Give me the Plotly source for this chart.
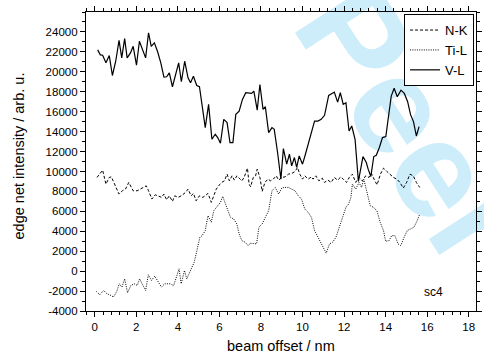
import plotly.graph_objects as go

# ---- data ----
vl_x = [0.14, 0.27, 0.38, 0.54, 0.70, 0.85, 1.01, 1.17, 1.30, 1.44, 1.56, 1.72, 1.85, 2.01, 2.15,
        2.31, 2.45, 2.59, 2.72, 2.87, 3.02, 3.18, 3.33, 3.46, 3.59, 3.74, 3.90, 4.04, 4.17, 4.33,
        4.49, 4.61, 4.75, 4.91, 5.04, 5.18, 5.32, 5.48, 5.64, 5.80, 5.92, 6.05, 6.21, 6.37, 6.51,
        6.65, 6.79, 6.95, 7.11, 7.27, 7.43, 7.55, 7.66, 7.82, 7.95, 8.10, 8.21, 8.37, 8.53, 8.64,
        8.80, 8.96, 9.08, 9.24, 9.37, 9.48, 9.61, 9.72, 9.84, 10.00, 10.11, 10.27, 10.43, 10.58,
        10.74, 10.90, 11.06, 11.17, 11.26, 11.42, 11.53, 11.69, 11.82, 11.96, 12.09, 12.24, 12.37,
        12.53, 12.69, 12.91, 13.07, 13.16, 13.29, 13.43, 13.55, 13.70, 13.85, 14.01, 14.14, 14.27,
        14.41, 14.56, 14.74, 14.90, 15.06, 15.20, 15.34, 15.48, 15.61]
vl_y = [22200, 21700, 21660, 20900, 21630, 19630, 21060, 23160, 21400, 23330, 21400, 21900, 22560,
        20660, 23060, 22230, 21400, 23900, 22560, 22900, 22060, 20900, 19460, 19500, 19900, 18500,
        19900, 20900, 19000, 21060, 19400, 18900, 19560, 18630, 18500, 16600, 14400, 16730, 13230,
        13730, 13400, 12830, 15230, 14900, 12900, 12900, 15730, 16060, 17230, 17900, 17830, 17830,
        18060, 16160, 18730, 16230, 16500, 13900, 14400, 14230, 11900, 9230, 12300, 10730, 11730,
        10560, 11400, 10400, 11560, 10730, 11500, 12730, 13730, 15060, 15060, 15230, 15630, 16900,
        17630, 17830, 17960, 16960, 17900, 16730, 16900, 14060, 14560, 13230, 9000, 11500, 10900,
        10230, 9500, 11500, 11630, 12400, 13400, 13500, 15400, 17560, 18350, 17500, 18160, 17830,
        17000, 15700, 15000, 13560, 14500]

nk_x = [0.11, 0.25, 0.38, 0.54, 0.70, 0.80, 1.01, 1.17, 1.33, 1.48, 1.64, 1.85, 2.04, 2.19, 2.32,
        2.48, 2.59, 2.75, 2.91, 3.07, 3.22, 3.33, 3.46, 3.59, 3.74, 3.85, 4.01, 4.17, 4.37, 4.49,
        4.64, 4.75, 4.88, 5.04, 5.20, 5.32, 5.45, 5.61, 5.74, 5.85, 6.00, 6.11, 6.24, 6.37, 6.48,
        6.61, 6.72, 6.84, 6.95, 7.08, 7.19, 7.35, 7.43, 7.50, 7.63, 7.74, 7.82, 7.95, 8.06, 8.19,
        8.34, 8.46, 8.59, 8.74, 8.85, 9.00, 9.16, 9.32, 9.48, 9.64, 9.76, 9.87, 10.00, 10.11,
        10.27, 10.43, 10.51, 10.64, 10.79, 10.95, 11.06, 11.22, 11.38, 11.53, 11.69, 11.85, 11.96,
        12.12, 12.25, 12.40, 12.56, 12.72, 12.88, 13.04, 13.20, 13.32, 13.48, 13.59, 13.75, 13.90,
        14.06, 14.22, 14.38, 14.54, 14.69, 14.85, 15.01, 15.17, 15.33, 15.48, 15.64]
nk_y = [9400, 9800, 10130, 8730, 9400, 9460, 8400, 7730, 8060, 8230, 8900, 8060, 8060, 8230, 8400,
        8560, 8060, 7230, 7660, 7560, 7400, 7730, 7160, 7560, 7000, 7560, 7400, 7560, 7900, 8230,
        7560, 7800, 7060, 7560, 7400, 7560, 7800, 6900, 7560, 8230, 8660, 8900, 9060, 9730, 9060,
        9560, 9130, 9560, 9330, 9060, 9400, 10330, 8730, 8460, 9400, 9560, 10230, 9400, 8000, 8900,
        9230, 9060, 9230, 9560, 9130, 9400, 9460, 9730, 9800, 10000, 10400, 9730, 9230, 9560,
        9230, 9460, 9230, 9560, 9060, 9330, 8900, 9130, 8900, 9400, 9130, 9460, 9230,
        8900, 9400, 9730, 8900, 9400, 9060, 9560, 9400, 9800, 9060, 8660, 9730, 10330,
        10000, 9730, 9400, 9230, 8900, 8330, 8900, 9730, 9560, 8900, 8400]

til_x = [0.08, 0.24, 0.43, 0.59, 0.79, 0.90, 1.06, 1.18, 1.31, 1.44, 1.58, 1.74, 1.90, 2.05, 2.16,
         2.29, 2.45, 2.58, 2.73, 2.89, 3.05, 3.21, 3.37, 3.52, 3.68, 3.79, 3.95, 4.06, 4.16, 4.32,
         4.43, 4.53, 4.66, 4.79, 4.90, 5.06, 5.17, 5.32, 5.45, 5.61, 5.73, 5.89, 6.05, 6.16, 6.37,
         6.53, 6.69, 6.84, 6.95, 7.08, 7.24, 7.38, 7.50, 7.66, 7.79, 7.90, 8.06, 8.21, 8.37, 8.53,
         8.69, 8.85, 9.00, 9.13, 9.32, 9.48, 9.64, 9.80, 9.95, 10.11, 10.27, 10.43, 10.58, 10.79,
         10.95, 11.14, 11.30, 11.45, 11.61, 11.77, 11.93, 12.09, 12.22, 12.33, 12.40, 12.56, 12.72,
         12.84, 12.95, 13.10, 13.26, 13.42, 13.58, 13.74, 13.90, 14.00, 14.17, 14.29, 14.45, 14.60,
         14.73, 14.89, 15.04, 15.20, 15.36, 15.52, 15.63]
til_y = [-2040, -2370, -1940, -2270, -2440, -2600, -2040, -1270, -1600, -770, -2170, -1440, -1270,
         -1440, -770, -1270, -1940, -370, -940, -500, -1100, -1600, -1270, -1270, -1270, -1500, -600,
         230, -1270, 60, -770, -270, 230, 900, 1900, 3400, 3560, 4060, 5560, 4900, 6060, 6500, 6900,
         7500, 6400, 5400, 5230, 4730, 3730, 3060, 2900, 2560, 2800, 2730, 2730, 4400, 4730, 5400,
         6060, 8060, 8400, 7730, 8330, 8400, 8400, 8230, 8060, 7560, 7230, 6230, 5900, 5400, 4060,
         3230, 2560, 1800, 2730, 2900, 3400, 4400, 5230, 6400, 6730, 7400, 8730, 8230, 8900, 8400,
         9230, 7900, 6560, 6400, 6060, 4900, 4060, 3000, 3060, 3560, 3560, 2730, 2560, 3400, 4060,
         4230, 4400, 5060, 5660]

series_names = ["N-K", "Ti-L", "V-L"]
y_tick_vals = [-4000, -2000, 0, 2000, 4000, 6000, 8000, 10000, 12000, 14000, 16000, 18000,
               20000, 22000, 24000]
y_tick_text = ["-4000", "-2000", "0", "2000", "4000", "6000", "8000", "10000", "12000", "14000",
               "16000", "18000", "20000", "22000", "24000"]
x_title = "beam offset / nm"
y_title = "edge net intensity / arb. u."
sample_label = "sc4"
watermark = "Peer"

FONT = "Liberation Sans, Arial, Helvetica, sans-serif"

fig = go.Figure()
fig.add_trace(go.Scatter(x=nk_x, y=nk_y, mode="lines", name=series_names[0],
                         line=dict(color="black", width=1, dash="3px,2px")))
fig.add_trace(go.Scatter(x=til_x, y=til_y, mode="lines", name=series_names[1],
                         line=dict(color="black", width=1, dash="1px,1.3px")))
fig.add_trace(go.Scatter(x=vl_x, y=vl_y, mode="lines", name=series_names[2],
                         line=dict(color="black", width=1.2)))

axis_common = dict(
    showgrid=False, zeroline=False, showline=True, linecolor="black", linewidth=1.2,
    mirror="ticks", ticks="outside", ticklen=5, tickwidth=1, tickcolor="black",
    tickfont=dict(family=FONT, size=11.5, color="black"),
)

fig.update_layout(
    width=484, height=360,
    margin=dict(l=86, r=2, t=12, b=49),
    paper_bgcolor="white", plot_bgcolor="white",
    font=dict(family=FONT, color="black"),
    xaxis=dict(range=[-0.42, 18.35], tickmode="linear", tick0=0, dtick=2,
               minor=dict(tickmode="linear", tick0=0, dtick=0.4, ticks="outside", ticklen=3,
                          tickwidth=1, tickcolor="black"),
               **axis_common),
    yaxis=dict(range=[-4000, 26000], tickmode="array", tickvals=y_tick_vals, ticktext=y_tick_text,
               minor=dict(tickmode="linear", tick0=0, dtick=1000, ticks="outside", ticklen=3,
                          tickwidth=1, tickcolor="black"),
               **axis_common),
    legend=dict(x=0.995, xanchor="right", y=0.993, yanchor="top",
                bordercolor="black", borderwidth=1, bgcolor="white",
                font=dict(family=FONT, size=13, color="black"),
                tracegroupgap=0, itemwidth=30),
    showlegend=True,
)

fig.add_annotation(text=x_title, xref="paper", yref="paper", x=0.5, y=-0.117,
                   xanchor="center", yanchor="middle", showarrow=False,
                   font=dict(family=FONT, size=14.5, color="black"))
fig.add_annotation(text=y_title, xref="paper", yref="paper", x=-0.172, y=0.52,
                   xanchor="center", yanchor="middle", showarrow=False, textangle=-90,
                   font=dict(family=FONT, size=14.5, color="black"))
fig.add_annotation(text=sample_label, xref="paper", yref="paper", x=(439 - 86) / 396,
                   y=(311 - 292) / 299, xanchor="center", yanchor="middle", showarrow=False,
                   font=dict(family=FONT, size=12, color="black"))

# faint watermark behind the data
fig.add_shape(type="rect", xref="paper", yref="paper",
              x0=0.855, x1=0.871, y0=0.64, y1=0.656, layer="below",
              line=dict(width=0), fillcolor="rgba(0,0,0,0)",
              label=dict(text="<b>" + watermark + "</b>", textangle=57,
                         textposition="middle center",
                         font=dict(family=FONT, size=138, color="#cdedfb")))

fig.write_html("out.html")
